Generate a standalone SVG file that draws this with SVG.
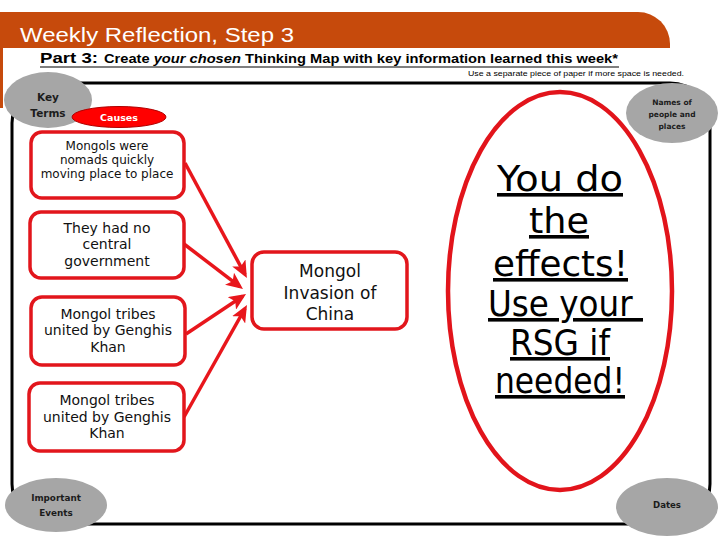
<svg xmlns="http://www.w3.org/2000/svg" width="720" height="540" viewBox="0 0 720 540">
<style>
.grey{fill:#A6A6A6;stroke:none}
.gt{font-family:"DejaVu Sans",Verdana,sans-serif;font-weight:bold;fill:#1c1c1c;text-anchor:middle}
.box{fill:#fff;stroke:#E2161C;stroke-width:3.5}
.bt{font-family:"DejaVu Sans",Verdana,sans-serif;fill:#111;text-anchor:middle}
.big{font-family:"DejaVu Sans",Verdana,sans-serif;font-size:36px;fill:#000;text-decoration:underline;white-space:pre}
.arr{stroke:#E8161C;stroke-width:3.5;fill:none;marker-end:url(#ah)}
</style>
<defs>
<marker id="ah" markerUnits="userSpaceOnUse" markerWidth="17" markerHeight="15" viewBox="0 0 17 15" refX="13" refY="7.5" orient="auto">
<path d="M0,0 L17,7.5 L0,15 L4,7.5 z" fill="#E8161C"/>
</marker>
</defs>
<rect width="720" height="540" fill="#fff"/>
<g id="banner">
<path d="M0,12 H638 A32,32 0 0 1 670,44 V48 H0 z" fill="#C64A0C"/>
<rect x="0" y="48" width="3" height="60" fill="#C64A0C"/>
<text x="20" y="42" font-family="'Liberation Sans',Arial,sans-serif" font-size="21" fill="#fff" textLength="274" lengthAdjust="spacingAndGlyphs">Weekly Reflection, Step 3</text>
</g>
<g id="heading">
<text x="40" y="63" font-family="'Liberation Sans',Arial,sans-serif" font-weight="bold" font-size="15" fill="#000" textLength="58" lengthAdjust="spacingAndGlyphs">Part 3:</text>
<text x="104" y="63" font-family="'Liberation Sans',Arial,sans-serif" font-weight="bold" font-size="12" fill="#000" textLength="514" lengthAdjust="spacingAndGlyphs">Create <tspan font-style="italic">your chosen</tspan> Thinking Map with key information learned this week*</text>
<line x1="40" y1="67" x2="619" y2="67" stroke="#000" stroke-width="1.2"/>
<text x="468" y="76" font-family="'Liberation Sans',Arial,sans-serif" font-size="8" fill="#000" textLength="216" lengthAdjust="spacingAndGlyphs">Use a separate piece of paper if more space is needed.</text>
</g>
<g id="frame">
<rect x="12" y="83" width="698" height="441" rx="40" ry="40" fill="none" stroke="#000" stroke-width="3"/>
</g>
<g id="key-terms">
<ellipse class="grey" cx="48" cy="100" rx="44" ry="28"/>
<text class="gt" x="48" y="101" font-size="10.5">Key</text>
<text class="gt" x="48" y="117" font-size="10.5">Terms</text>
</g>
<g id="names">
<ellipse class="grey" cx="672" cy="113" rx="46" ry="30"/>
<text class="gt" x="672" y="105" font-size="7.5">Names of</text>
<text class="gt" x="672" y="117" font-size="7.5">people and</text>
<text class="gt" x="672" y="129" font-size="7.5">places</text>
</g>
<g id="events">
<ellipse class="grey" cx="56" cy="505" rx="51" ry="27"/>
<text class="gt" x="56" y="501" font-size="8.8">Important</text>
<text class="gt" x="56" y="516" font-size="8.8">Events</text>
</g>
<g id="dates">
<ellipse class="grey" cx="667" cy="507" rx="51" ry="29"/>
<text class="gt" x="667" y="508" font-size="8.6">Dates</text>
</g>
<g id="causes">
<ellipse cx="119" cy="117" rx="47" ry="10.5" fill="#FF0000" stroke="#B00000" stroke-width="1"/>
<text x="119" y="121" font-family="'DejaVu Sans',Verdana,sans-serif" font-weight="bold" font-size="9.5" fill="#fff" text-anchor="middle">Causes</text>
</g>
<g id="connectors">
<line class="arr" x1="185" y1="163" x2="245" y2="274.5"/>
<line class="arr" x1="184" y1="244" x2="239.8" y2="286.6"/>
<line class="arr" x1="186" y1="334" x2="242.7" y2="296.2"/>
<line class="arr" x1="184" y1="417" x2="245" y2="308.5"/>
</g>
<g id="cause1">
<rect class="box" x="31" y="132" width="153" height="66" rx="11"/>
<text class="bt" x="107" y="150" font-size="12">Mongols were</text>
<text class="bt" x="107" y="164" font-size="12">nomads quickly</text>
<text class="bt" x="107" y="178" font-size="12">moving place to place</text>
</g>
<g id="cause2">
<rect class="box" x="30" y="212" width="154" height="66" rx="11"/>
<text class="bt" x="107" y="233" font-size="14">They had no</text>
<text class="bt" x="107" y="249" font-size="14">central</text>
<text class="bt" x="107" y="266" font-size="14">government</text>
</g>
<g id="cause3">
<rect class="box" x="31" y="297" width="154" height="68" rx="11"/>
<text class="bt" x="108" y="319" font-size="14">Mongol tribes</text>
<text class="bt" x="108" y="335" font-size="14">united by Genghis</text>
<text class="bt" x="108" y="352" font-size="14">Khan</text>
</g>
<g id="cause4">
<rect class="box" x="29" y="383" width="155" height="68" rx="11"/>
<text class="bt" x="107" y="405" font-size="14">Mongol tribes</text>
<text class="bt" x="107" y="422" font-size="14">united by Genghis</text>
<text class="bt" x="107" y="438" font-size="14">Khan</text>
</g>
<g id="invasion">
<rect class="box" x="252" y="252" width="155" height="77" rx="12"/>
<text class="bt" x="330" y="277" font-size="17">Mongol</text>
<text class="bt" x="330" y="299" font-size="17">Invasion of</text>
<text class="bt" x="330" y="320" font-size="17">China</text>
</g>
<g id="effects">
<ellipse cx="560" cy="291" rx="112" ry="199" fill="none" stroke="#E2141B" stroke-width="4.5"/>
<text class="big" x="497" y="191" textLength="126" lengthAdjust="spacingAndGlyphs">You do</text>
<text class="big" x="529" y="233" textLength="60" lengthAdjust="spacingAndGlyphs">the</text>
<text class="big" x="493" y="276" textLength="135" lengthAdjust="spacingAndGlyphs">effects!</text>
<text class="big" x="488" y="316" textLength="155" lengthAdjust="spacingAndGlyphs">Use your </text>
<text class="big" x="510" y="355" textLength="100" lengthAdjust="spacingAndGlyphs">RSG if</text>
<text class="big" x="495" y="393" textLength="130" lengthAdjust="spacingAndGlyphs">needed!</text>
</g>
</svg>
